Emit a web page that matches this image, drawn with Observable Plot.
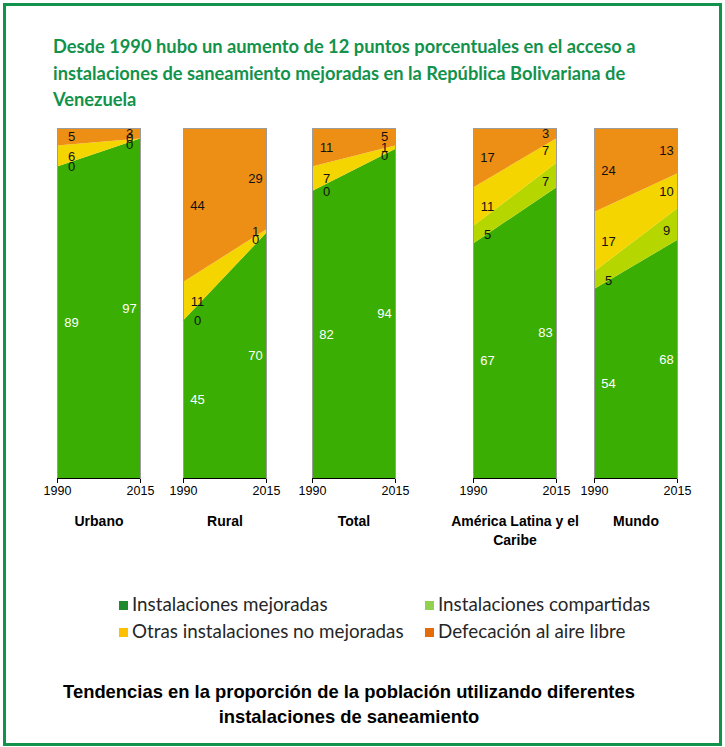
<!DOCTYPE html>
<html><head><meta charset="utf-8">
<script src="https://cdn.jsdelivr.net/npm/d3@7"></script>
<script src="https://cdn.jsdelivr.net/npm/@observablehq/plot@0.6"></script>
<style>
body{margin:0;background:#fff;}
#root{position:relative;width:725px;height:747px;overflow:hidden;font-family:"Liberation Sans",Arial,sans-serif;background:#fff;}
#border{position:absolute;left:3px;top:3px;width:719px;height:743px;border:3px solid #12924b;box-sizing:border-box;}
#title{position:absolute;left:53px;top:33px;color:#12924b;font-family:Lato,"Open Sans",sans-serif;font-weight:bold;font-size:18.3px;line-height:26.5px;white-space:nowrap;}
.panel{position:absolute;}
#legend{position:absolute;left:119px;top:591px;font-family:Lato,"Open Sans",sans-serif;font-size:18.8px;color:#262626;}
.li{position:absolute;white-space:nowrap;line-height:26px;}
.sw{display:inline-block;width:9px;height:9px;margin-right:4px;vertical-align:1px;}
#caption{position:absolute;left:0;top:679px;width:698px;text-align:center;font-weight:bold;font-size:18.4px;line-height:25px;color:#000;}
</style></head>
<body>
<div id="root">
  <div id="border"></div>
  <div id="title">Desde 1990 hubo un aumento de 12 puntos porcentuales en el acceso a<br>instalaciones de saneamiento mejoradas en la República Bolivariana de<br>Venezuela</div>
  <div id="legend"></div>
  <div id="caption">Tendencias en la proporción de la población utilizando diferentes<br>instalaciones de saneamiento</div>
</div>
<script>
// ---- data ----
const panels = ["Urbano", "Rural", "Total", "América Latina y el\nCaribe", "Mundo"];
const years = [1990, 2015];
const categories = ["Instalaciones mejoradas", "Instalaciones compartidas", "Otras instalaciones no mejoradas", "Defecación al aire libre"];
const mejoradas   = [[89, 97], [45, 70], [82, 94], [67, 83], [54, 68]];
const compartidas = [[0, 0], [0, 0], [0, 0], [5, 7], [5, 9]];
const otras       = [[6, 0], [11, 1], [7, 1], [11, 7], [17, 10]];
const aireLibre   = [[5, 3], [44, 29], [11, 5], [17, 3], [24, 13]];

// ---- styles / layout ----
const areaColors = {
  "Instalaciones mejoradas": "#3aae02",
  "Instalaciones compartidas": "#b6d600",
  "Otras instalaciones no mejoradas": "#f4d500",
  "Defecación al aire libre": "#ee8f15"
};
const legendColors = {
  "Instalaciones mejoradas": "#1f8b2c",
  "Instalaciones compartidas": "#92d050",
  "Otras instalaciones no mejoradas": "#ffc000",
  "Defecación al aire libre": "#e46c0a"
};
const panelLeft = [57, 183, 312, 473, 594];
const panelW = 83, panelH = 350, plotTop = 128;
const ml = 25, mr = 25, mt = 2, mb = 80;

const series = [mejoradas, compartidas, otras, aireLibre];
const root = document.getElementById("root");

panels.forEach((name, p) => {
  const rows = [];
  categories.forEach((cat, c) => {
    years.forEach((year, k) => rows.push({panel: name, cat, year, value: series[c][p][k]}));
  });
  const labelFill = d => d.cat === categories[0] ? "#ffffff" : "#111111";
  const base = {x: "year", y: "value", z: "cat", order: categories, fill: labelFill, fontSize: 13};
  const chart = Plot.plot({
    width: panelW + ml + mr,
    height: panelH + mt + mb,
    marginLeft: ml, marginRight: mr, marginTop: mt, marginBottom: mb,
    style: {fontFamily: '"Liberation Sans", Arial, sans-serif', fontSize: "12.5px", color: "#000", background: "transparent", overflow: "visible"},
    x: {domain: [1990, 2015], ticks: years, tickFormat: d => String(d), tickSize: 5, tickPadding: 3, label: null},
    y: {domain: [0, 100], axis: null},
    color: {type: "identity"},
    marks: [
      Plot.areaY(rows, {x: "year", y: "value", z: "cat", order: categories, fill: d => areaColors[d.cat]}),
      Plot.frame({stroke: "#9c9c9c"}),
      Plot.ruleY([0], {stroke: "#000"}),
      Plot.text(rows, Plot.stackY({...base, filter: d => d.year === 1990, text: d => String(d.value), dx: 14})),
      Plot.text(rows, Plot.stackY({...base, filter: d => d.year === 2015, text: d => d.cat !== categories[1] ? String(d.value) : null, dx: -11})),
      Plot.text(rows, Plot.stackY({...base, filter: d => d.year === 2015, text: d => d.cat === categories[1] ? String(d.value) : null, dx: -11, dy: 6})),
      Plot.text([name], {text: d => d, frameAnchor: "bottom", dy: 35, lineAnchor: "top", fontWeight: "bold", fontSize: 14, lineHeight: 1.3, fill: "#000"})
    ]
  });
  chart.classList.add("panel");
  chart.style.left = (panelLeft[p] - ml) + "px";
  chart.style.top = (plotTop - mt) + "px";
  root.appendChild(chart);
});

// legend
const legend = document.getElementById("legend");
const legendPos = [[0, 0], [306, 0], [0, 27], [306, 27]];
categories.forEach((cat, i) => {
  const el = document.createElement("div");
  el.className = "li";
  el.style.left = legendPos[i][0] + "px";
  el.style.top = legendPos[i][1] + "px";
  const sw = document.createElement("span");
  sw.className = "sw";
  sw.style.background = legendColors[cat];
  el.appendChild(sw);
  el.appendChild(document.createTextNode(cat));
  legend.appendChild(el);
});
</script>
</body></html>
